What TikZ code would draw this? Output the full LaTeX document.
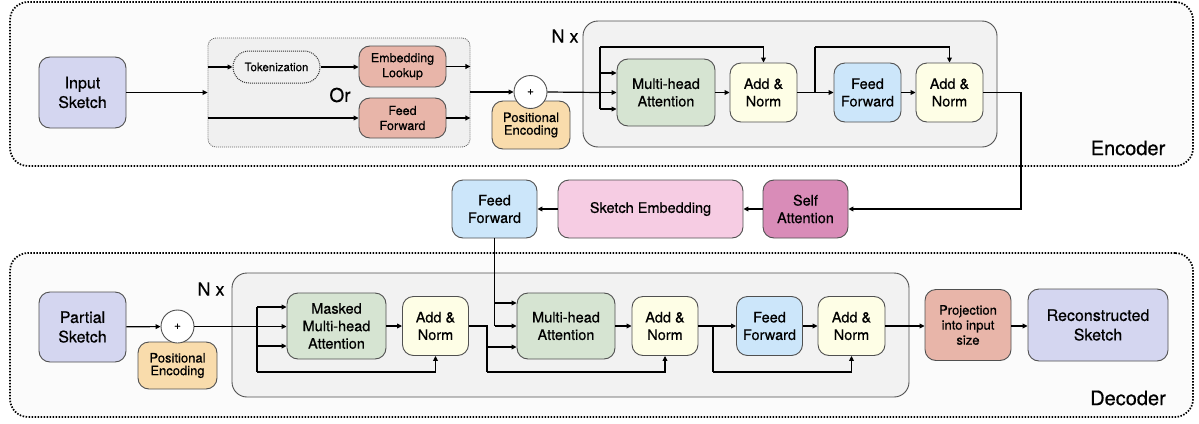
\documentclass[tikz,border=0pt]{standalone}
\usepackage{fontspec}
\setmainfont{TeX Gyre Heros}[FakeBold=0.5]
\usetikzlibrary{arrows.meta,calc}
\definecolor{lav}{HTML}{D4D6F0}
\definecolor{salmon}{HTML}{E8B5A9}
\definecolor{mgreen}{HTML}{D6E4D2}
\definecolor{myellow}{HTML}{FEFEE6}
\definecolor{mblue}{HTML}{CCE6FA}
\definecolor{peach}{HTML}{F9DCAC}
\definecolor{mpink}{HTML}{F6CCE3}
\definecolor{mauve}{HTML}{D98CB8}
\definecolor{stackgray}{HTML}{F2F2F2}
\definecolor{outerfill}{HTML}{FBFBFB}
\definecolor{groupfill}{HTML}{F0F0F0}
\definecolor{edge}{HTML}{505050}
\begin{document}
\begin{tikzpicture}[x=1pt,y=-1pt,
  box/.style={draw=edge, line width=0.9pt, rounded corners=11pt, align=center, inner sep=0pt},
  sz/.style 2 args={minimum width=#1pt, minimum height=#2pt},
  outer/.style={draw=black, line width=1.7pt, dash pattern=on 1.5pt off 1.5pt, rounded corners=18pt, fill=outerfill, inner sep=0pt},
  stack/.style={draw=edge, line width=0.9pt, rounded corners=15pt, fill=stackgray, inner sep=0pt},
  group/.style={draw=black!60, line width=0.8pt, dash pattern=on 1pt off 1pt, rounded corners=8pt, fill=groupfill, inner sep=0pt},
  conn/.style={line width=1.2pt, -{Triangle[length=5pt,width=4.8pt]}},
  wire/.style={line width=1.2pt},
  fa/.style={font=\fontsize{16}{19.5}\selectfont},
  fb/.style={font=\fontsize{14.5}{17.5}\selectfont},
  fc/.style={font=\fontsize{13}{15}\selectfont},
  fd/.style={font=\fontsize{12.5}{15}\selectfont},
  lbl/.style={font=\fontsize{20}{24}\selectfont, inner sep=0pt},
  nxl/.style={font=\fontsize{18}{22}\selectfont, inner sep=0pt},
  plus/.style={circle, draw=edge, line width=0.9pt, fill=white, minimum size=33pt, inner sep=0pt, font=\fontsize{11.5}{13}\selectfont}
]
\useasboundingbox (0,0) rectangle (1199,423);

% ---------------- Encoder ----------------
\node[outer, sz={1183}{164}] (encbox) at (601.5,84) {};
\node[stack, sz={414}{126}] (encstack) at (790,84) {};
\node[group, sz={262}{109}] (grp) at (339,92.5) {};
\node[lbl] (enclbl) at (1128,148) {Encoder};
\node[nxl] (nx1) at (565,36) {N x};

\node[box, fill=lav, fa, sz={87}{71}] (insk) at (82.5,92.5) {Input\\Sketch};
\node[box, draw=black!80, line width=1pt, dash pattern=on 1pt off 1pt, rounded corners=16pt, sz={87}{32}, font=\fontsize{11.5}{13}\selectfont] (tok) at (276.5,67) {Tokenization};
\node[box, fill=salmon, fd, sz={87}{41}] (emb) at (402.5,66.5) {Embedding\\Lookup};
\node[box, fill=salmon, fd, sz={87}{40}] (ff1) at (402.5,118) {Feed\\Forward};
\node[font=\fontsize{19}{22}\selectfont, inner sep=0pt] (ortxt) at (340,95) {Or};
\node[box, fill=peach, fc, sz={78}{48}] (pe1) at (531,125) {\raisebox{-6pt}{\shortstack{Positional\\Encoding}}};
\node[plus] (plus1) at (530.5,92) {+};

\node[box, fill=mgreen, fb, sz={98}{67}] (mha1) at (666,92.5) {Multi-head\\Attention};
\node[box, fill=myellow, fb, sz={67}{59}] (an1) at (763.5,92.5) {Add \&\\Norm};
\node[box, fill=mblue, fb, sz={67}{59}] (ffe) at (867.5,92.5) {Feed\\Forward};
\node[box, fill=myellow, fb, sz={67}{59}] (an2) at (949.5,92.5) {Add \&\\Norm};

\draw[conn] (insk.east) -- (insk.east -| grp.west);
\draw[conn] (grp.west |- tok.west) -- (tok.west);
\draw[conn] (tok.east) -- (tok.east -| emb.west);
\draw[conn] (emb.east) -- (emb.east -| grp.east);
\draw[conn] (grp.west |- ff1.west) -- (ff1.west);
\draw[conn] (ff1.east) -- (ff1.east -| grp.east);
\draw[conn] (grp.east |- plus1.west) -- (plus1.west);

\coordinate (b1t) at (600,47);
\coordinate (b1a) at (600,73);
\coordinate (b1m) at (600,92.5);
\coordinate (b1b) at (600,109);
\draw[wire] (plus1.east) -- (b1m);
\draw[wire] (b1t) -- (b1b);
\draw[conn] (b1a) -- (b1a -| mha1.west);
\draw[conn] (b1m) -- (mha1.west);
\draw[conn] (b1b) -- (b1b -| mha1.west);
\draw[conn] (b1t) -| (an1.north);
\draw[conn] (mha1) -- (an1);
\coordinate (br1) at (815,92.5);
\coordinate (br1t) at (815,47);
\draw[wire] (an1.east) -- (br1);
\draw[conn] (br1) -- (ffe.west);
\draw[wire] (br1) -- (br1t);
\draw[conn] (br1t) -| (an2.north);
\draw[conn] (ffe) -- (an2);

% ---------------- Middle ----------------
\node[box, fill=mblue, fb, sz={85}{58}] (ffm) at (494.5,209) {Feed\\Forward};
\node[box, fill=mpink, fb, sz={185}{58}] (se) at (650.5,209) {Sketch Embedding};
\node[box, fill=mauve, fb, sz={85}{58}] (sa) at (805.5,209) {Self\\Attention};
\coordinate (dn) at (1021,92.5);
\draw[conn] (an2.east) -- (dn) |- (sa.east);
\draw[conn] (sa) -- (se);
\draw[conn] (se) -- (ffm);

% ---------------- Decoder ----------------
\node[outer, sz={1183}{164}] (decbox) at (601.5,335) {};
\node[stack, sz={677}{124}] (decstack) at (570.5,335) {};
\node[lbl] (declbl) at (1128,398) {Decoder};
\node[nxl] (nx2) at (211,289) {N x};

\node[box, fill=lav, fa, sz={87}{70}] (psk) at (82.5,327) {Partial\\Sketch};
\node[box, fill=peach, fc, sz={79}{47}] (pe2) at (177.5,365.5) {\raisebox{-6pt}{\shortstack{Positional\\Encoding}}};
\node[plus] (plus2) at (177.5,326.5) {+};
\node[box, fill=mgreen, fb, sz={99}{66}] (mmha) at (336.5,326) {Masked\\Multi-head\\Attention};
\node[box, fill=myellow, fb, sz={66}{59}] (and1) at (435.5,326) {Add \&\\Norm};
\node[box, fill=mgreen, fb, sz={98}{66}] (mha2) at (566,326) {Multi-head\\Attention};
\node[box, fill=myellow, fb, sz={66}{59}] (and2) at (665,326) {Add \&\\Norm};
\node[box, fill=mblue, fb, sz={66}{59}] (ffd) at (769.5,326) {Feed\\Forward};
\node[box, fill=myellow, fb, sz={67}{59}] (and3) at (851.5,326) {Add \&\\Norm};
\node[box, fill=salmon, fc, sz={86}{71}] (proj) at (968,325) {Projection\\into input\\size};
\node[box, fill=lav, fa, sz={140}{72}] (rec) at (1098,325) {Reconstructed\\Sketch};

% encoder output into decoder attention
\coordinate (tA) at (494.5,303);
\coordinate (tB) at (494.5,326);
\draw[wire] (ffm.south) -- (tB);
\draw[conn] (tA) -- (tA -| mha2.west);
\draw[conn] (tB) -- (mha2.west);

\draw[conn] (psk) -- (plus2);
\coordinate (b2t) at (257,307);
\coordinate (b2m) at (257,346);
\coordinate (b2b) at (257,372);
\draw[conn] (plus2.east) -- (plus2.east -| mmha.west);
\draw[wire] (b2t) -- (b2b);
\draw[conn] (b2t) -- (b2t -| mmha.west);
\draw[conn] (b2m) -- (b2m -| mmha.west);
\draw[conn] (b2b) -| (and1.south);
\draw[conn] (mmha) -- (and1);

\coordinate (c1) at (487,326);
\coordinate (c1m) at (487,347);
\coordinate (c1b) at (487,372);
\draw[wire] (and1.east) -- (c1) -- (c1b);
\draw[conn] (c1m) -- (c1m -| mha2.west);
\draw[conn] (c1b) -| (and2.south);
\draw[conn] (mha2) -- (and2);

\coordinate (c2) at (713,326);
\coordinate (c2b) at (713,372);
\draw[wire] (and2.east) -- (c2) -- (c2b);
\draw[conn] (c2) -- (ffd.west);
\draw[conn] (c2b) -| (and3.south);
\draw[conn] (ffd) -- (and3);
\draw[conn] (and3.east) -- (and3.east -| proj.west);
\draw[conn] (proj.east |- and3.east) -- (rec.west |- and3.east);
\end{tikzpicture}
\end{document}
